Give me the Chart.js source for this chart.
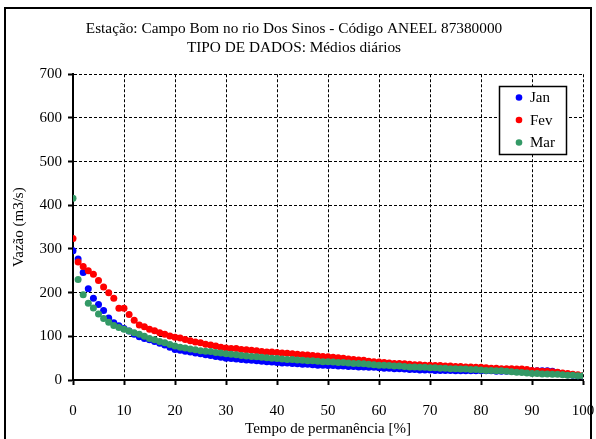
<!DOCTYPE html>
<html>
<head>
<meta charset="utf-8">
<script src="https://cdn.jsdelivr.net/npm/chart.js@4/dist/chart.umd.min.js"></script>
<style>
  html, body { margin: 0; padding: 0; background: #ffffff; }
  #wrap { width: 596px; height: 439px; position: relative; }
</style>
</head>
<body>
<div id="wrap"><canvas id="c" width="596" height="439"></canvas></div>
<script>
// ---- Data ----
const titleLines = ['Estação: Campo Bom no rio Dos Sinos - Código ANEEL 87380000', 'TIPO DE DADOS: Médios diários'];
const xTitle = 'Tempo de permanência [%]';
const yTitle = 'Vazão (m3/s)';
const seriesNames = ['Jan', 'Fev', 'Mar'];
const seriesColors = ['#0000FF', '#FF0000', '#339966'];

// percent of time (x)
const permanencia = [
  0,1,2,3,4,5,6,7,8,9,10,11,12,13,14,15,16,17,18,19,20,
  21,22,23,24,25,26,27,28,29,30,31,32,33,34,35,36,37,38,39,40,
  41,42,43,44,45,46,47,48,49,50,51,52,53,54,55,56,57,58,59,60,
  61,62,63,64,65,66,67,68,69,70,71,72,73,74,75,76,77,78,79,80,
  81,82,83,84,85,86,87,88,89,90,91,92,93,94,95,96,97,98,99,100
];

const vazaoJan = [
  296,277,246,209,187,173,159,142,131,124,118,112,105,99,95,92,88,84,80,75,70,
  68,66,64,62,60,58,56,54,52,50,49,48,47,46,45,44,43,42,41,40,
  39,39,38,37,36,36,35,34,34,33,33,32,32,31,31,30,30,29,29,28,
  27,27,26,26,25,24,24,23,23,23,22,22,22,22,21,21,21,21,21,21,
  21,21,20,20,20,20,20,20,20,21,21,21,21,20,17,14,12,11,10,9
];

const vazaoFev = [
  324,270,260,250,242,228,213,200,187,164,164,150,137,126,122,116,113,108,105,101,98,
  96,93,90,87,85,82,80,78,75,73,72,72,70,69,68,67,65,64,64,63,
  62,61,60,59,58,57,56,55,54,53,52,51,50,48,47,46,45,43,42,41,
  40,39,38,38,37,36,35,35,34,34,33,33,32,32,31,31,30,30,29,29,
  28,27,27,26,26,26,25,25,24,22,21,20,20,19,18,16,15,13,12,10
];

const vazaoMar = [
  416,230,195,176,165,151,141,132,125,120,116,112,108,105,100,95,92,88,85,81,78,
  75,73,71,69,67,66,65,63,62,60,59,58,56,55,54,53,52,51,50,49,
  48,47,47,46,45,44,44,43,42,42,41,40,40,39,38,38,37,36,35,34,
  34,33,32,32,31,30,30,29,29,28,28,27,27,26,26,25,25,24,24,23,
  22,22,21,21,20,19,18,17,16,15,15,14,14,13,13,12,11,11,10,10
];

const xTicks = [0,10,20,30,40,50,60,70,80,90,100];
const yTicks = [0,100,200,300,400,500,600,700];

const seriesValues = [vazaoJan, vazaoFev, vazaoMar];

const FONT = 'Liberation Serif, Times New Roman, serif';

const datasets = seriesNames.map((name, i) => ({
  label: name,
  data: permanencia.map((p, k) => ({x: p, y: seriesValues[i][k]})),
  backgroundColor: seriesColors[i],
  borderColor: seriesColors[i],
  pointRadius: 3.5,
  pointHoverRadius: 3.5,
  pointBorderWidth: 0,
  showLine: false,
  order: 3 - i
}));

const framePlugin = {
  id: 'frame',
  beforeDraw(chart) {
    const ctx = chart.ctx;
    ctx.save();
    ctx.fillStyle = '#ffffff';
    ctx.fillRect(0, 0, chart.width, chart.height);
    ctx.restore();
  },
  afterDraw(chart) {
    const ctx = chart.ctx;
    ctx.save();
    ctx.strokeStyle = '#000000';
    ctx.lineWidth = 2;
    ctx.strokeRect(5, 8, 586, 440);
    // legend box
    const bx = 499.5, by = 86.5, bw = 67, bh = 68;
    ctx.fillStyle = '#ffffff';
    ctx.fillRect(bx, by, bw, bh);
    ctx.lineWidth = 1.5;
    ctx.strokeRect(bx, by, bw, bh);
    ctx.font = '15px ' + FONT;
    ctx.textBaseline = 'middle';
    ctx.textAlign = 'left';
    chart.data.datasets.forEach((ds, i) => {
      const cy = 97.5 + i * 22.5;
      ctx.beginPath();
      ctx.fillStyle = ds.backgroundColor;
      ctx.arc(519, cy, 3.3, 0, Math.PI * 2);
      ctx.fill();
      ctx.fillStyle = '#000000';
      ctx.fillText(ds.label, 530, cy + 1);
    });
    ctx.restore();
  }
};

new Chart(document.getElementById('c'), {
  type: 'scatter',
  data: { datasets },
  options: {
    responsive: false,
    animation: false,
    devicePixelRatio: 1,
    layout: { padding: { left: 5, right: 13, top: 10, bottom: 0 } },
    plugins: {
      legend: { display: false },
      tooltip: { enabled: false },
      title: {
        display: true,
        text: titleLines,
        color: '#000000',
        font: { family: FONT, size: 15.3, weight: 'normal', lineHeight: 1.25 },
        padding: { top: 9, bottom: 17 }
      }
    },
    scales: {
      x: {
        type: 'linear',
        min: 0, max: 100,
        afterBuildTicks(scale) { scale.ticks = xTicks.map(v => ({value: v})); },
        afterFit(scale) { scale.height = 59; scale.paddingLeft = 0; scale.paddingRight = 0; },
        ticks: {
          color: '#000000',
          font: { family: FONT, size: 15 },
          padding: 17,
          maxRotation: 0,
          autoSkip: false
        },
        grid: {
          color: '#000000',
          lineWidth: 1,
          tickLength: 5,
          tickColor: '#000000',
          tickWidth: 2,
          tickBorderDash: []
        },
        border: { display: true, color: '#000000', width: 2, dash: [3, 2] },
        title: {
          display: true,
          text: xTitle,
          color: '#000000',
          font: { family: FONT, size: 15 },
          padding: { top: 0, bottom: 1 }
        }
      },
      y: {
        type: 'linear',
        min: 0, max: 700,
        afterBuildTicks(scale) { scale.ticks = yTicks.map(v => ({value: v})); },
        afterFit(scale) { scale.width = 68; scale.paddingTop = 0; scale.paddingBottom = 0; },
        ticks: {
          color: '#000000',
          font: { family: FONT, size: 15 },
          padding: 6
        },
        grid: {
          color: '#000000',
          lineWidth: 1,
          tickLength: 5,
          tickColor: '#000000',
          tickWidth: 2,
          tickBorderDash: []
        },
        border: { display: true, color: '#000000', width: 2, dash: [3, 2] },
        title: {
          display: true,
          text: yTitle,
          color: '#000000',
          font: { family: FONT, size: 15 },
          padding: { top: 5, bottom: 0 }
        }
      }
    }
  },
  plugins: [framePlugin]
});
</script>
</body>
</html>
